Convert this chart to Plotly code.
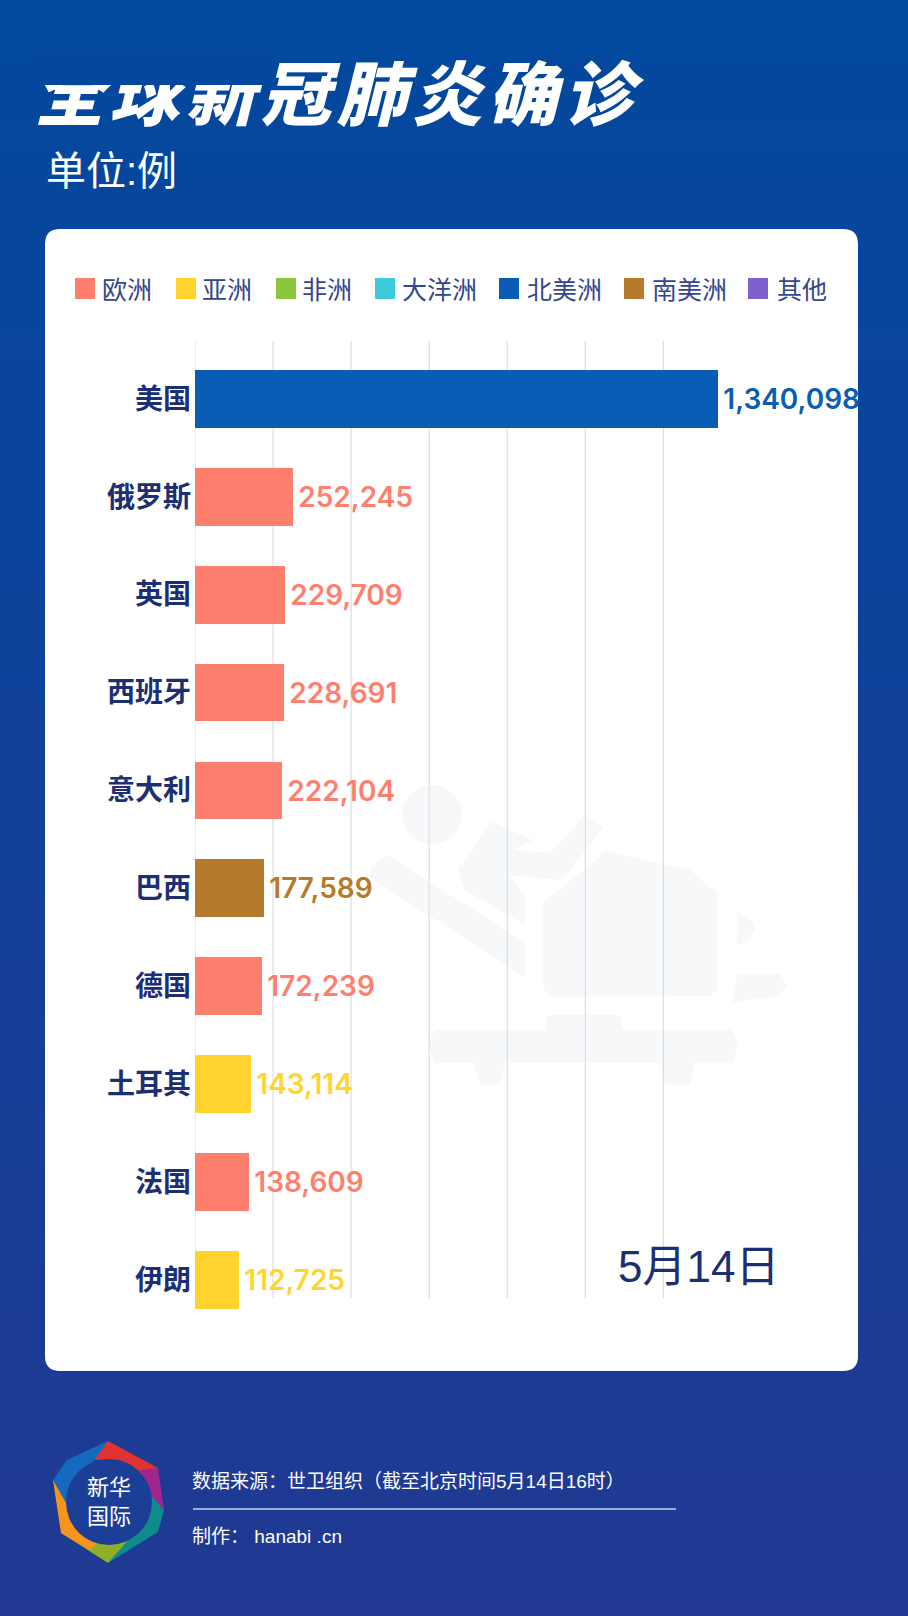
import plotly.graph_objects as go

W, H = 908, 1616

# datos
paises = ["美国", "俄罗斯", "英国", "西班牙", "意大利", "巴西", "德国", "土耳其", "法国", "伊朗"]
casos = [1340098, 252245, 229709, 228691, 222104, 177589, 172239, 143114, 138609, 112725]
zonas = ["北美洲", "欧洲", "欧洲", "欧洲", "欧洲", "南美洲", "欧洲", "亚洲", "欧洲", "亚洲"]
leyenda = ["欧洲", "亚洲", "非洲", "大洋洲", "北美洲", "南美洲", "其他"]
colores = ["#FF7F6E", "#FFD42E", "#8CC63F", "#3CCBDA", "#0A5DB5", "#B67A2C", "#8060CC"]
grid_ticks = [0, 200000, 400000, 600000, 800000, 1000000, 1200000]
titulo = "全球新冠肺炎确诊"

NAVY = "#1C2F72"
CJK = "Noto Sans CJK SC"


def px(x, y):
    return x / W, 1 - y / H


def poly(puntos):
    partes = []
    for i, (x, y) in enumerate(puntos):
        a, b = px(x, y)
        partes.append(("M" if i == 0 else "L") + f"{a:.5f},{b:.5f}")
    return " ".join(partes) + " Z"


def forma(tipo_path, color, layer="below"):
    return dict(type="path", path=tipo_path, xref="paper", yref="paper",
                fillcolor=color, line=dict(width=0), layer=layer)


def caja(x0, y0, x1, y1, color, layer="below"):
    a0, b0 = px(x0, y0)
    a1, b1 = px(x1, y1)
    return dict(type="rect", xref="paper", yref="paper", x0=a0, y0=b0, x1=a1, y1=b1,
                fillcolor=color, line=dict(width=0), layer=layer)


def circulo(cx, cy, r, color, layer="below"):
    a0, b0 = px(cx - r, cy - r)
    a1, b1 = px(cx + r, cy + r)
    return dict(type="circle", xref="paper", yref="paper", x0=a0, y0=b0, x1=a1, y1=b1,
                fillcolor=color, line=dict(width=0), layer=layer)


def fondo(y):
    t = y / H
    top, bottom = (2, 73, 159), (33, 57, 146)
    c = [round(top[i] + (bottom[i] - top[i]) * t) for i in range(3)]
    return f"rgb({c[0]},{c[1]},{c[2]})"


shapes = []

# fondo degradado
for i in range(54):
    shapes.append(caja(0, i * 30, W, (i + 1) * 30 + 1, fondo(i * 30 + 15)))

# tarjeta blanca
x0, y0, x1, y1, r = 45, 229, 858, 1371, 15
tarjeta = (
    "M{} {} L{} {} Q{} {} {} {} L{} {} Q{} {} {} {} L{} {} Q{} {} {} {} L{} {} Q{} {} {} {} Z".format(
        *px(x0 + r, y0), *px(x1 - r, y0), *px(x1, y0), *px(x1, y0 + r),
        *px(x1, y1 - r), *px(x1, y1), *px(x1 - r, y1),
        *px(x0 + r, y1), *px(x0, y1), *px(x0, y1 - r),
        *px(x0, y0 + r), *px(x0, y0), *px(x0 + r, y0))
)
shapes.append(forma(tarjeta, "#FFFFFF"))

# marca de agua
AGUA = "#F6F8FA"
shapes.append(circulo(432, 815, 30, AGUA))
shapes.append(forma(poly([(370, 867), (387, 855), (525, 942), (525, 978), (370, 877)]), AGUA))
shapes.append(forma(poly([(457, 870), (492, 822), (533, 840), (512, 850), (550, 853), (585, 815),
                          (603, 828), (562, 880), (510, 875), (525, 895), (525, 925), (465, 890)]), AGUA))
shapes.append(forma(poly([(543, 903), (606, 851), (690, 870), (717, 893), (717, 990), (710, 996),
                          (552, 997), (543, 988)]), AGUA))
shapes.append(forma(poly([(737, 912), (752, 920), (756, 930), (748, 940), (737, 945)]), AGUA))
shapes.append(forma(poly([(737, 974), (780, 974), (787, 985), (780, 996), (732, 1002)]), AGUA))
shapes.append(forma(poly([(435, 1030), (545, 1030), (547, 1015), (620, 1015), (622, 1030), (732, 1030),
                          (738, 1045), (732, 1062), (695, 1062), (690, 1085), (665, 1085), (660, 1063),
                          (505, 1063), (500, 1085), (480, 1085), (473, 1063), (435, 1063), (428, 1045)]), AGUA))

# lineas verticales, mas cortas que el area de las barras
for v in grid_ticks:
    shapes.append(dict(type="line", xref="x", yref="paper", x0=v, x1=v,
                       y0=px(0, 1298)[1], y1=px(0, 341)[1],
                       line=dict(color="#D5D8DC", width=1), layer="between"))

# cuadros de la leyenda
cuadros = [75, 176, 276, 375, 499, 624, 748]
for xc, color in zip(cuadros, colores):
    shapes.append(caja(xc, 278, xc + 20, 299, color, layer="above"))

# logo
anillo = [
    ([(108, 1441), (158, 1468), (150, 1485), (120, 1460), (87, 1460)], "#E0332F"),
    ([(158, 1468), (164, 1510), (150, 1505), (140, 1470)], "#A0268F"),
    ([(150, 1495), (164, 1510), (158, 1532), (108, 1563), (125, 1535)], "#0E8C8C"),
    ([(108, 1563), (130, 1538), (85, 1535), (61, 1533)], "#8FAE2A"),
    ([(53, 1480), (61, 1533), (90, 1550), (110, 1530), (75, 1490)], "#F7941D"),
    ([(108, 1441), (87, 1470), (70, 1510), (53, 1480), (67, 1460)], "#1569BF"),
]
for pts, c in anillo:
    shapes.append(forma(poly(pts), c))
shapes.append(circulo(109, 1502, 43, "#1B3E96"))

# linea del pie
shapes.append(dict(type="line", xref="paper", yref="paper",
                   x0=px(193, 0)[0], x1=px(676, 0)[0], y0=px(0, 1509)[1], y1=px(0, 1509)[1],
                   line=dict(color="#C9D2F2", width=1.5), layer="below"))

# tapa la parte de arriba de los tres primeros caracteres
shapes.append(forma(poly([(30, 50), (272, 50), (264, 85), (30, 85)]), fondo(70), layer="above"))

fig = go.Figure()

for zona, color in zip(leyenda, colores):
    xs = [c for c, z in zip(casos, zonas) if z == zona]
    ys = [p for p, z in zip(paises, zonas) if z == zona]
    if not xs:
        xs, ys = [None], [paises[0]]
    fig.add_trace(go.Bar(
        x=xs, y=ys, name=zona + "\u2009", orientation="h", width=0.59,
        marker=dict(color=color, line=dict(width=0)),
        text=["\u200a" + f"{v:,}" if v else "" for v in xs],
        textposition="outside", cliponaxis=False, constraintext="none",
        textfont=dict(family="Inter", size=28, color=color, weight=600),
        hoverinfo="x+y",
    ))

# titulo, en un subplot aparte para que la banda lo pueda tapar
fig.add_trace(go.Scatter(
    x=[69 + i * 75.6 for i in range(len(titulo))], y=[102] * len(titulo),
    mode="text", text=list(titulo), textposition="middle center",
    textfont=dict(family=CJK, size=70, color="#FFFFFF", weight=900, style="italic"),
    xaxis="x2", yaxis="y2", showlegend=False, hoverinfo="skip", cliponaxis=False,
))

anotaciones = [
    dict(text="单位:例", x=44, y=171, size=40, color="#FFFFFF", anchor="left"),
    dict(text="5月14日", x=616, y=1266, size=44, color=NAVY, anchor="left"),
    dict(text="数据来源：世卫组织（截至北京时间5月14日16时）", x=190, y=1481, size=19, color="#FFFFFF", anchor="left"),
    dict(text="制作： hanabi .cn", x=190, y=1536, size=19, color="#FFFFFF", anchor="left"),
    dict(text="新华<br>国际", x=109, y=1502, size=22, color="#FFFFFF", anchor="center"),
]
for a in anotaciones:
    xa, ya = px(a["x"], a["y"])
    fig.add_annotation(text=a["text"], x=xa, y=ya, xref="paper", yref="paper", showarrow=False,
                       xanchor=a["anchor"], yanchor="middle",
                       font=dict(family="Liberation Sans, " + CJK, size=a["size"], color=a["color"]))

fig.update_layout(
    width=W, height=H,
    margin=dict(l=0, r=0, t=0, b=0),
    paper_bgcolor="#1B3E96",
    plot_bgcolor="rgba(0,0,0,0)",
    barmode="overlay",
    bargap=0,
    shapes=shapes,
    showlegend=True,
    legend=dict(orientation="h", x=px(62, 0)[0], y=px(0, 289)[1], xanchor="left", yanchor="middle",
                bgcolor="rgba(0,0,0,0)", font=dict(family=CJK, size=25, color="#34478C"),
                itemclick=False, itemdoubleclick=False, traceorder="normal"),
    xaxis=dict(domain=[px(195, 0)[0], px(858, 0)[0]], range=[0, 1698800],
               showticklabels=False, showgrid=False, zeroline=False, ticks="", fixedrange=True),
    yaxis=dict(domain=[px(0, 1329)[1], px(0, 341)[1]], type="category",
               categoryorder="array", categoryarray=paises, range=[9.5, -0.59],
               showgrid=False, zeroline=False, showline=False, ticks="",
               tickfont=dict(family=CJK, size=28, color=NAVY, weight=700), ticklabelstandoff=3,
               fixedrange=True),
    xaxis2=dict(domain=[0, 1], range=[0, W], visible=False, anchor="y2", fixedrange=True),
    yaxis2=dict(domain=[0, 1], range=[H, 0], visible=False, anchor="x2", fixedrange=True),
)

fig.write_html("out.html", config={"displayModeBar": False},
               post_script="document.body.style.margin='0';")
